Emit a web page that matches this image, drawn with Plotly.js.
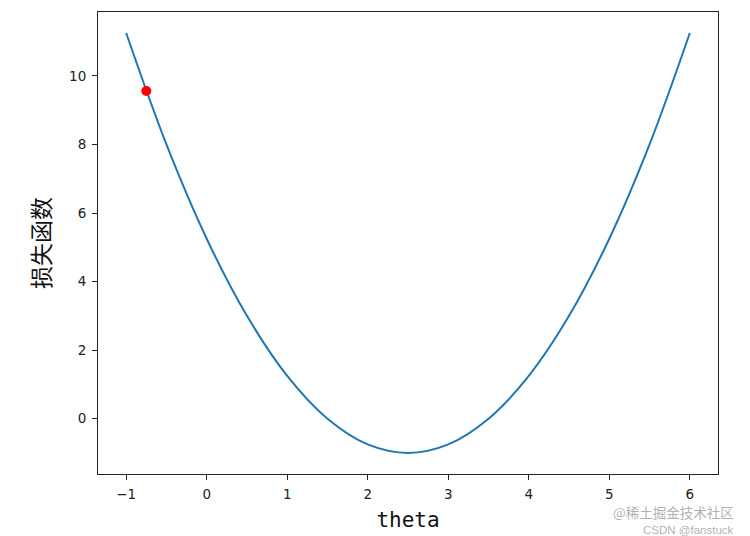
<!DOCTYPE html>
<html>
<head>
<meta charset="utf-8">
<script src="https://cdn.plot.ly/plotly-3.0.1.min.js"></script>
<style>html,body{margin:0;padding:0;background:#fff;}#chart{width:750px;height:536px;}</style>
</head>
<body>
<div id="chart"></div>
<script>
// values
var thetaValues = [-1, -0.5, 0, 0.5, 1, 1.5, 2, 2.5, 3, 3.5, 4, 4.5, 5, 5.5, 6];
var lossValues = [11.25, 8.0, 5.25, 3.0, 1.25, 0.0, -0.75, -1.0, -0.75, 0.0, 1.25, 3.0, 5.25, 8.0, 11.25];
var pointTheta = [-0.75];
var pointLoss = [9.56];
var xTicks = [-1, 0, 1, 2, 3, 4, 5, 6];
var yTicks = [0, 2, 4, 6, 8, 10];
var xLabel = 'theta';
var yLabel = '损失函数';
var watermark1 = '@稀土掘金技术社区';
var watermark2 = 'CSDN @fanstuck';

var traces = [
  {x: thetaValues, y: lossValues, type: 'scatter', mode: 'lines',
   line: {color: '#1f77b4', width: 2, shape: 'spline', smoothing: 1.0}, hoverinfo: 'skip'},
  {x: pointTheta, y: pointLoss, type: 'scatter', mode: 'markers',
   marker: {color: '#ff0000', size: 10}, hoverinfo: 'skip'}
];

var axisCommon = {
  showgrid: false, zeroline: false, showline: true, mirror: true,
  linecolor: '#222', linewidth: 1, ticks: 'outside', ticklen: 5, tickwidth: 1,
  tickcolor: '#222', tickfont: {family: 'DejaVu Sans', size: 13.5, color: '#222'}
};

var layout = {
  width: 750, height: 536,
  margin: {l: 98, r: 32, t: 12, b: 62},
  paper_bgcolor: '#fff', plot_bgcolor: '#fff',
  showlegend: false,
  xaxis: Object.assign({}, axisCommon, {
    range: [-1.35, 6.35], tickvals: xTicks,
    ticktext: xTicks.map(function(v){return v < 0 ? '\u2212' + Math.abs(v) : String(v);}),
    ticklabelstandoff: 3,
    title: {text: xLabel, font: {family: 'DejaVu Sans Mono', size: 21, color: '#111'}, standoff: 11}
  }),
  yaxis: Object.assign({}, axisCommon, {
    range: [-1.6125, 11.8625], tickvals: yTicks,
    ticklabelstandoff: 3,
    title: {text: yLabel, font: {family: 'Noto Sans CJK SC', size: 23, color: '#111'}, standoff: 12}
  }),
  annotations: [
    {xref: 'paper', yref: 'paper', x: 1.0, y: -0.107, xanchor: 'right', yanchor: 'bottom',
     text: watermark1, showarrow: false, borderpad: 0, font: {family: 'Noto Sans CJK SC', size: 13.5, color: 'rgba(150,150,150,0.75)'}, xshift: 17},
    {xref: 'paper', yref: 'paper', x: 1.0, y: -0.107, xanchor: 'right', yanchor: 'top',
     text: watermark2, showarrow: false, borderpad: 0, font: {family: 'Liberation Sans', size: 11.5, color: 'rgba(150,150,150,0.75)'}, xshift: 17}
  ]
};

Plotly.newPlot('chart', traces, layout, {staticPlot: true, displayModeBar: false});
</script>
</body>
</html>
